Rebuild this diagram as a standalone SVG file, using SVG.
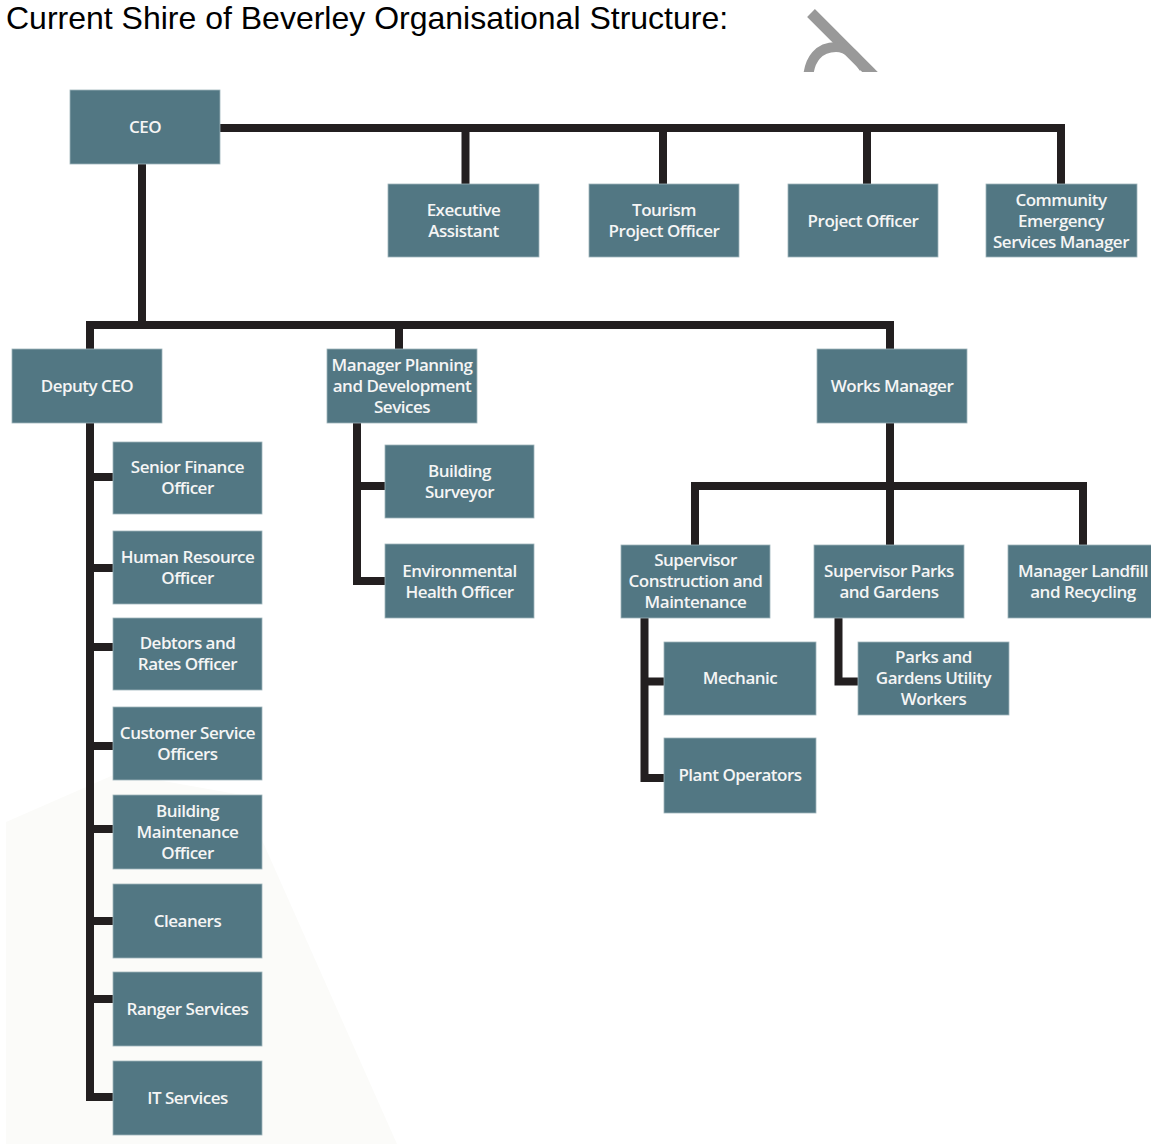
<svg xmlns="http://www.w3.org/2000/svg" width="1151" height="1144" viewBox="0 0 1151 1144">
<defs>
<style>
.box{fill:#527783;stroke:#9fb5bb;stroke-width:0.8}
.lbl{font-family:"Open Sans","Lato",sans-serif;font-weight:600;font-size:17px;fill:#f5f5f5;text-anchor:middle;letter-spacing:-0.5px}
.con{fill:none;stroke:#231f20;stroke-width:8;stroke-linejoin:miter;stroke-linecap:butt}
.title{font-family:"Liberation Sans",Arial,sans-serif;font-size:32px;fill:#000}
.wm{fill:none;stroke:#999;stroke-linecap:butt}
</style>
<clipPath id="wmclip"><rect x="780" y="0" width="120" height="72"/></clipPath>
</defs>
<rect width="1151" height="1144" fill="#fff"/>
<polygon points="6,822 118,773 242,795 397,1144 6,1144" fill="#fbfbf9"/>
<g clip-path="url(#wmclip)">
<line class="wm" x1="811" y1="13" x2="880" y2="82" stroke-width="11"/>
<path class="wm" d="M808,82 C808,58 820,47 836,47 C848,47 856,56 864,68" stroke-width="10"/>
</g>
<text class="title" x="6" y="29">Current Shire of Beverley Organisational Structure:</text>
<g id="connectors">
<path class="con" d="M220,128 H1061 V184"/>
<path class="con" d="M465.5,128 V184 M663,128 V184 M867,128 V184"/>
<path class="con" d="M142,164 V325"/>
<path class="con" d="M90,349 V325 H890 V349 M399,325 V349"/>
<path class="con" d="M90,423 V1097 H113 M90,477 H113 M90,568 H113 M90,647 H113 M90,746 H113 M90,829 H113 M90,921 H113 M90,999 H113"/>
<path class="con" d="M357,423 V581 H385 M357,486 H385"/>
<path class="con" d="M890,423 V545 M695,545 V486 H1083 V545"/>
<path class="con" d="M644.5,618 V778 H665 M644.5,681.5 H665"/>
<path class="con" d="M838.5,618 V681.5 H859"/>
</g>
<g id="ceo"><rect class="box" x="70" y="90" width="150" height="74"/><text class="lbl" x="145" y="133">CEO</text></g>
<g id="executive-assistant"><rect class="box" x="388" y="184" width="151" height="73"/><text class="lbl" x="463.5" y="216">Executive</text><text class="lbl" x="463.5" y="237">Assistant</text></g>
<g id="tourism-project-officer"><rect class="box" x="589" y="184" width="150" height="73"/><text class="lbl" x="664" y="216">Tourism</text><text class="lbl" x="664" y="237">Project Officer</text></g>
<g id="project-officer"><rect class="box" x="788" y="184" width="150" height="73"/><text class="lbl" x="863" y="227">Project Officer</text></g>
<g id="community-emergency"><rect class="box" x="986" y="184" width="151" height="73"/><text class="lbl" x="1061" y="206">Community</text><text class="lbl" x="1061" y="227">Emergency</text><text class="lbl" x="1061" y="248">Services Manager</text></g>
<g id="deputy-ceo"><rect class="box" x="12" y="349" width="150" height="74"/><text class="lbl" x="87" y="392">Deputy CEO</text></g>
<g id="manager-planning"><rect class="box" x="327" y="349" width="150" height="74"/><text class="lbl" x="402" y="371">Manager Planning</text><text class="lbl" x="402" y="392">and Development</text><text class="lbl" x="402" y="413">Sevices</text></g>
<g id="works-manager"><rect class="box" x="817" y="349" width="150" height="74"/><text class="lbl" x="892" y="392">Works Manager</text></g>
<g id="building-surveyor"><rect class="box" x="385" y="445" width="149" height="73"/><text class="lbl" x="459.5" y="477">Building</text><text class="lbl" x="459.5" y="498">Surveyor</text></g>
<g id="environmental-health"><rect class="box" x="385" y="544" width="149" height="74"/><text class="lbl" x="459.5" y="577">Environmental</text><text class="lbl" x="459.5" y="598">Health Officer</text></g>
<g id="senior-finance"><rect class="box" x="113" y="442" width="149" height="72"/><text class="lbl" x="187.5" y="473">Senior Finance</text><text class="lbl" x="187.5" y="494">Officer</text></g>
<g id="human-resource"><rect class="box" x="113" y="531" width="149" height="73"/><text class="lbl" x="187.5" y="563">Human Resource</text><text class="lbl" x="187.5" y="584">Officer</text></g>
<g id="debtors-rates"><rect class="box" x="113" y="618" width="149" height="72"/><text class="lbl" x="187.5" y="649">Debtors and</text><text class="lbl" x="187.5" y="670">Rates Officer</text></g>
<g id="customer-service"><rect class="box" x="113" y="707" width="149" height="73"/><text class="lbl" x="187.5" y="739">Customer Service</text><text class="lbl" x="187.5" y="760">Officers</text></g>
<g id="building-maintenance"><rect class="box" x="113" y="795" width="149" height="74"/><text class="lbl" x="187.5" y="817">Building</text><text class="lbl" x="187.5" y="838">Maintenance</text><text class="lbl" x="187.5" y="859">Officer</text></g>
<g id="cleaners"><rect class="box" x="113" y="884" width="149" height="74"/><text class="lbl" x="187.5" y="927">Cleaners</text></g>
<g id="ranger-services"><rect class="box" x="113" y="972" width="149" height="74"/><text class="lbl" x="187.5" y="1015">Ranger Services</text></g>
<g id="it-services"><rect class="box" x="113" y="1061" width="149" height="74"/><text class="lbl" x="187.5" y="1104">IT Services</text></g>
<g id="supervisor-construction"><rect class="box" x="621" y="545" width="149" height="73"/><text class="lbl" x="695.5" y="566">Supervisor</text><text class="lbl" x="695.5" y="587">Construction and</text><text class="lbl" x="695.5" y="608">Maintenance</text></g>
<g id="supervisor-parks"><rect class="box" x="814" y="545" width="150" height="73"/><text class="lbl" x="889" y="577">Supervisor Parks</text><text class="lbl" x="889" y="598">and Gardens</text></g>
<g id="manager-landfill"><rect class="box" x="1008" y="545" width="150" height="73"/><text class="lbl" x="1083" y="577">Manager Landfill</text><text class="lbl" x="1083" y="598">and Recycling</text></g>
<g id="mechanic"><rect class="box" x="664" y="642" width="152" height="73"/><text class="lbl" x="740" y="684">Mechanic</text></g>
<g id="plant-operators"><rect class="box" x="664" y="738" width="152" height="75"/><text class="lbl" x="740" y="781">Plant Operators</text></g>
<g id="parks-utility-workers"><rect class="box" x="858" y="642" width="151" height="73"/><text class="lbl" x="933.5" y="663">Parks and</text><text class="lbl" x="933.5" y="684">Gardens Utility</text><text class="lbl" x="933.5" y="705">Workers</text></g>
</svg>
